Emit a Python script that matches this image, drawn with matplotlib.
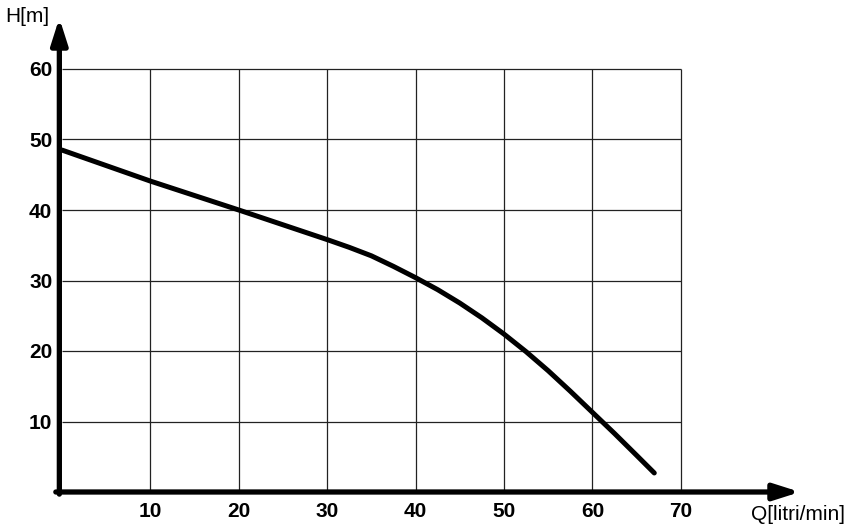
"""Pump performance curve H(Q) drawn on a hand-style grid with arrowed axes."""

import matplotlib

matplotlib.use("Agg")
import matplotlib.pyplot as plt  # noqa: E402

plt.rcParams["font.family"] = ["Liberation Sans", "DejaVu Sans"]

# flow (litri/min) and head (m)
Q = [0, 10, 20, 25, 30, 32.5, 35, 37.5, 40, 42.5, 45, 47.5, 50, 52.5, 55, 57.5, 60,
     62.5, 65, 67]
H = [48.5, 44.1, 40.0, 37.9, 35.8, 34.7, 33.5, 32.0, 30.4, 28.7, 26.8, 24.7, 22.4,
     19.9, 17.2, 14.3, 11.3, 8.3, 5.2, 2.7]

X_TICKS = [10, 20, 30, 40, 50, 60, 70]
Y_TICKS = [10, 20, 30, 40, 50, 60]
X_LABEL = "Q[litri/min]"
Y_LABEL = "H[m]"

W, HGT = 848, 530
X0, Y0 = 62, 492          # pixel position of the origin
X_END, Y_END = 800, 18    # pixel tips of the arrows
PX_X, PX_Y = 8.84, 7.05   # pixels per unit

fig = plt.figure(figsize=(W / 100, HGT / 100), dpi=100)
ax = fig.add_axes([X0 / W, (HGT - Y0) / HGT, (X_END - X0) / W, (Y0 - Y_END) / HGT])
xmax = (X_END - X0) / PX_X
ymax = (Y0 - Y_END) / PX_Y
ax.set_xlim(0, xmax)
ax.set_ylim(0, ymax)

# grid box limited to the tick range
ax.vlines(X_TICKS, 0, max(Y_TICKS), color="#222222", lw=0.9, zorder=1)
ax.hlines(Y_TICKS, 0, max(X_TICKS), color="#222222", lw=0.9, zorder=1)

ax.plot(Q, H, color="black", lw=3.6, solid_capstyle="round",
        solid_joinstyle="round", zorder=3)

for s in ax.spines.values():
    s.set_visible(False)

arrow = dict(arrowstyle="-|>,head_length=1.1,head_width=0.35", color="black",
             lw=3.8, shrinkA=0, shrinkB=0, mutation_scale=14)
ax.annotate("", xy=(-0.3, ymax), xytext=(-0.3, -0.3), arrowprops=arrow,
            annotation_clip=False, zorder=4)
ax.annotate("", xy=(xmax, 0), xytext=(-0.7, 0), arrowprops=arrow,
            annotation_clip=False, zorder=4)

ax.set_xticks(X_TICKS)
ax.set_yticks(Y_TICKS)
ax.set_xticklabels([str(v) for v in X_TICKS], fontsize=15, fontweight="bold")
ax.set_yticklabels([str(v) for v in Y_TICKS], fontsize=15, fontweight="bold")
ax.tick_params(axis="x", length=0, pad=7)
ax.tick_params(axis="y", length=0, pad=7)

fig.text(5 / W, 1 - 17 / HGT, Y_LABEL, fontsize=15, va="center", ha="left")
fig.text(845 / W, 1 - 514 / HGT, X_LABEL, fontsize=15, va="center", ha="right")

fig.savefig("out.png", dpi=100, facecolor="white")
